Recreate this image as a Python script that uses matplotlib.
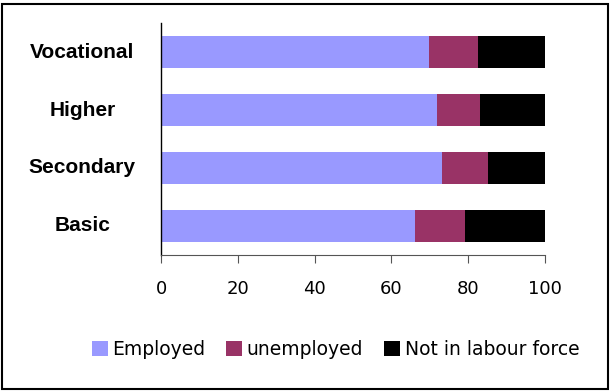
import matplotlib.pyplot as plt
from matplotlib.patches import Rectangle

# data
categories = ["Basic", "Secondary", "Higher", "Vocational"]
employed = [66.1, 73.3, 72.0, 69.9]
unemployed = [13.1, 11.9, 11.0, 12.7]
not_in_lf = [20.8, 14.8, 17.0, 17.4]

fig = plt.figure(figsize=(6.1, 3.91), dpi=100)
ax = fig.add_axes([0.264, 0.348, 0.629, 0.593])

left2 = [e + u for e, u in zip(employed, unemployed)]
ax.barh(categories, employed, height=0.55, color="#9999FF", label="Employed")
ax.barh(categories, unemployed, left=employed, height=0.55, color="#993366", label="unemployed")
ax.barh(categories, not_in_lf, left=left2, height=0.55, color="black", label="Not in labour force")

ax.set_xlim(0, 100)
ax.set_ylim(-0.5, 3.5)
ax.set_xticks([0, 20, 40, 60, 80, 100])
for s in ["top", "right"]:
    ax.spines[s].set_visible(False)
ax.spines["left"].set_linewidth(1.0)
ax.spines["bottom"].set_linewidth(0.8)
ax.spines["bottom"].set_color("#555555")
ax.tick_params(axis="y", length=0, pad=0)
ax.tick_params(axis="x", length=6, width=0.8, color="#555555", pad=12, labelsize=13)

# category labels, centred in the space left of the axis
ax.set_yticklabels([])
for i, c in enumerate(categories):
    ax.text(-0.205, i, c, transform=ax.get_yaxis_transform(), ha="center", va="center",
            fontsize=15, fontweight="bold", family="Liberation Sans")

ax.legend(loc="center", bbox_to_anchor=(0.55, 0.107), bbox_transform=fig.transFigure,
          ncol=3, frameon=False, fontsize=13.5, handlelength=0.85, handleheight=0.85,
          handletextpad=0.25, columnspacing=1.1)

fig.patches.append(Rectangle((0.004, 0.006), 0.992, 0.984, transform=fig.transFigure,
                             fill=False, edgecolor="black", linewidth=1.5))

fig.savefig("out.png", dpi=100)
